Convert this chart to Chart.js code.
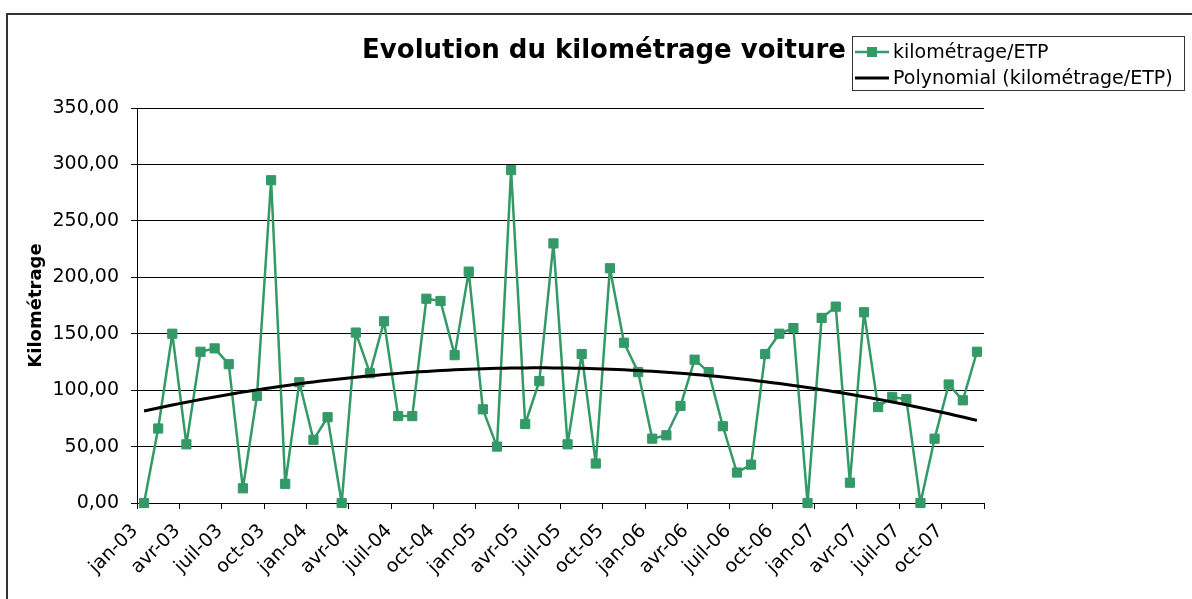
<!DOCTYPE html>
<html>
<head>
<meta charset="utf-8">
<script src="https://cdn.jsdelivr.net/npm/chart.js@4/dist/chart.umd.min.js"></script>
<style>
  html, body { margin: 0; padding: 0; background: #fff; }
  #wrap { position: absolute; left: 0; top: 0; width: 1192px; height: 599px; }
</style>
</head>
<body>
<div id="wrap"><canvas id="kmChart" width="1192" height="599"></canvas></div>
<script>
const months = ['jan', 'fév', 'mars', 'avr', 'mai', 'juin', 'juil', 'août', 'sept', 'oct', 'nov', 'déc'];
const years = ['03', '04', '05', '06', '07'];

// km / ETP, one value per month (jan-03 .. déc-07)
const kmEtp = [
  0, 66, 150, 52, 134, 137, 123, 13, 95, 286, 17, 107,
  56, 76, 0, 151, 115, 161, 77, 77, 181, 179, 131, 205,
  83, 50, 295, 70, 108, 230, 52, 132, 35, 208, 142, 116,
  57, 60, 86, 127, 116, 68, 27, 34, 132, 150, 155, 0,
  164, 174, 18, 169, 85, 94, 92, 0, 57, 105, 91, 134
];

const yTicks = [0, 50, 100, 150, 200, 250, 300, 350];

const green = '#339966';

let categories = [];
years.forEach(y => months.forEach(m => categories.push(m + '-' + y)));

// Excel style polynomial (order 2) trendline, least squares on the series
function polyTrend(vals) {
  let s = [0, 0, 0, 0, 0], t = [0, 0, 0];
  vals.forEach((v, i) => {
    const x = i + 1;
    for (let k = 0; k < 5; k++) s[k] += Math.pow(x, k);
    for (let k = 0; k < 3; k++) t[k] += v * Math.pow(x, k);
  });
  const A = [[s[0], s[1], s[2], t[0]], [s[1], s[2], s[3], t[1]], [s[2], s[3], s[4], t[2]]];
  for (let c = 0; c < 3; c++) {
    for (let r = c + 1; r < 3; r++) {
      const f = A[r][c] / A[c][c];
      for (let k = c; k < 4; k++) A[r][k] -= f * A[c][k];
    }
  }
  const b = [0, 0, 0];
  for (let r = 2; r >= 0; r--) {
    let sum = A[r][3];
    for (let k = r + 1; k < 3; k++) sum -= A[r][k] * b[k];
    b[r] = sum / A[r][r];
  }
  return vals.map((v, i) => b[0] + b[1] * (i + 1) + b[2] * (i + 1) * (i + 1));
}
const trend = polyTrend(kmEtp);

const frameAndText = {
  id: 'frameAndText',
  afterDraw(chart) {
    const ctx = chart.ctx;
    ctx.save();
    // outer frame
    ctx.strokeStyle = '#333';
    ctx.lineWidth = 2;
    ctx.beginPath();
    ctx.moveTo(7, 599);
    ctx.lineTo(7, 14);
    ctx.lineTo(1192, 14);
    ctx.stroke();

    // title
    ctx.fillStyle = '#000';
    ctx.font = 'bold 26px "DejaVu Sans"';
    ctx.textAlign = 'center';
    ctx.textBaseline = 'alphabetic';
    ctx.fillText('Evolution du kilométrage voiture', 604, 58);

    // legend
    ctx.fillStyle = '#fff';
    ctx.fillRect(852.5, 36.5, 332, 54);
    ctx.strokeStyle = '#333';
    ctx.lineWidth = 1;
    ctx.strokeRect(852.5, 36.5, 332, 54);

    ctx.strokeStyle = green;
    ctx.lineWidth = 2.5;
    ctx.beginPath();
    ctx.moveTo(855, 52);
    ctx.lineTo(889, 52);
    ctx.stroke();
    ctx.fillStyle = green;
    ctx.fillRect(867, 47, 10, 10);

    ctx.strokeStyle = '#000';
    ctx.lineWidth = 3;
    ctx.beginPath();
    ctx.moveTo(855, 78);
    ctx.lineTo(889, 78);
    ctx.stroke();

    ctx.fillStyle = '#000';
    ctx.font = '19px "DejaVu Sans"';
    ctx.textAlign = 'left';
    ctx.textBaseline = 'middle';
    ctx.fillText('kilométrage/ETP', 893, 53);
    ctx.fillText('Polynomial (kilométrage/ETP)', 893, 79);
    ctx.restore();
  }
};

const ctx = document.getElementById('kmChart').getContext('2d');
new Chart(ctx, {
  type: 'line',
  data: {
    labels: categories,
    datasets: [
      {
        label: 'kilométrage/ETP',
        data: kmEtp,
        borderColor: green,
        backgroundColor: green,
        borderWidth: 2.5,
        borderJoinStyle: 'round',
        pointStyle: 'rect',
        pointRadius: 6.5,
        pointBorderWidth: 1,
        pointBorderColor: green,
        pointBackgroundColor: green,
        tension: 0,
        clip: false,
        order: 1
      },
      {
        label: 'Polynomial (kilométrage/ETP)',
        data: trend,
        borderColor: '#000',
        borderWidth: 3,
        pointRadius: 0,
        tension: 0.4,
        clip: false,
        order: 0
      }
    ]
  },
  options: {
    responsive: false,
    animation: false,
    layout: { padding: { left: 0, top: 108, right: 208, bottom: 0 } },
    plugins: {
      legend: { display: false },
      title: { display: false },
      tooltip: { enabled: false }
    },
    scales: {
      x: {
        type: 'category',
        offset: true,
        afterFit(scale) { scale.height = 96; scale.paddingLeft = 0; scale.paddingRight = 0; },
        grid: {
          offset: true,
          drawOnChartArea: false,
          tickLength: 6,
          tickColor: c => (c.index === undefined || c.index % 3 === 0) ? '#000' : 'rgba(0,0,0,0)'
        },
        border: { display: true, color: '#000', width: 1 },
        ticks: {
          autoSkip: false,
          minRotation: 45,
          maxRotation: 45,
          padding: 11,
          labelOffset: -9,
          color: '#000',
          font: { family: 'DejaVu Sans', size: 19 },
          callback: function (v, i) { return i % 3 === 0 ? this.getLabelForValue(v) : ''; }
        }
      },
      y: {
        min: 0,
        max: 350,
        afterFit(scale) { scale.width = 137; },
        afterBuildTicks(scale) { scale.ticks = yTicks.map(v => ({ value: v })); },
        grid: { color: '#000', lineWidth: 1, tickLength: 6, tickColor: '#000' },
        border: { display: true, color: '#000', width: 1 },
        ticks: {
          padding: 12,
          color: '#000',
          font: { family: 'DejaVu Sans', size: 19 },
          callback: v => v.toFixed(2).replace('.', ',')
        },
        title: {
          display: true,
          text: 'Kilométrage',
          color: '#000',
          font: { family: 'DejaVu Sans', size: 18, weight: 'bold' },
          padding: { top: 26, bottom: 0 }
        }
      }
    }
  },
  plugins: [frameAndText]
});
</script>
</body>
</html>
